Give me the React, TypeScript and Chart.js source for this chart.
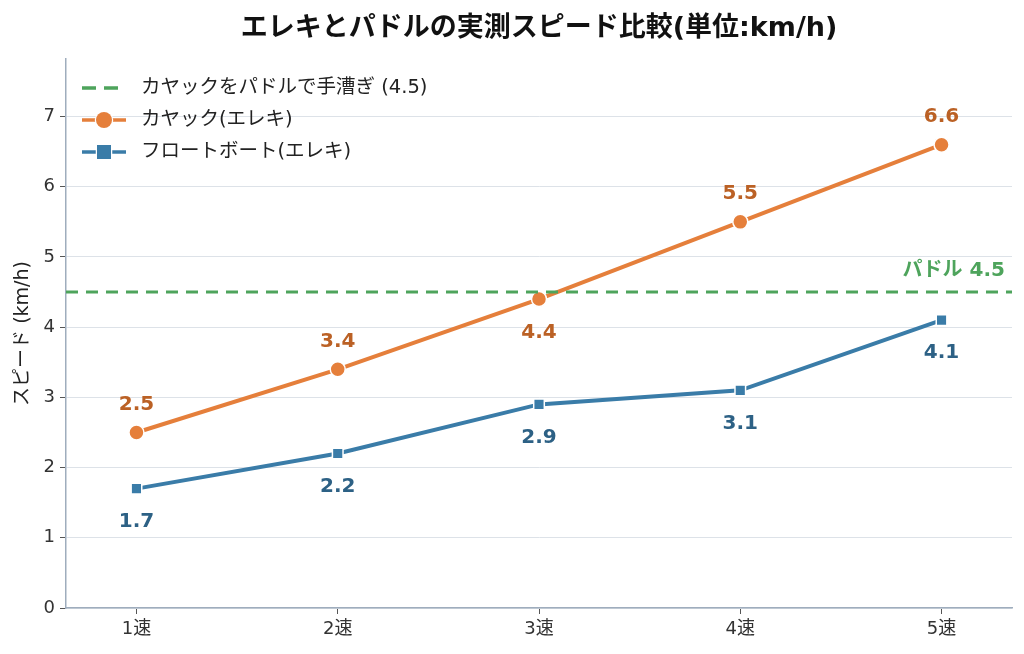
import React, { useEffect, useRef } from "react";
import { Chart, registerables } from "chart.js";

Chart.register(...registerables);

const categories = ["1速", "2速", "3速", "4速", "5速"];
const kayakSpeeds = [2.5, 3.4, 4.4, 5.5, 6.6];
const floatSpeeds = [1.7, 2.2, 2.9, 3.1, 4.1];
const paddleSpeed = 4.5;
const yTicks = [0, 1, 2, 3, 4, 5, 6, 7];
const kayakLabelBelow = [false, false, true, false, false];

const TITLE = "エレキとパドルの実測スピード比較(単位:km/h)";
const FONT = "'DejaVu Sans', 'Noto Sans CJK JP', sans-serif";
const X_MIN = -0.35;
const X_MAX = 4.35;

const GREEN = "#4ea45c";
const ORANGE = "#e57f3b";
const BLUE = "#3a7ca8";
const ORANGE_TEXT = "#bb6125";
const BLUE_TEXT = "#2d6185";

const overlayPlugin = {
  id: "overlay",
  afterDatasetsDraw(chart: any) {
    const { ctx, chartArea, scales } = chart;
    const xs = scales.x;
    const ys = scales.y;
    ctx.save();
    // title
    ctx.fillStyle = "#111";
    ctx.font = `bold 27px ${FONT}`;
    ctx.textAlign = "center";
    ctx.textBaseline = "middle";
    ctx.fillText(TITLE, (chartArea.left + chartArea.right) / 2, 29);

    // data labels
    ctx.font = `bold 20px ${FONT}`;
    kayakSpeeds.forEach((v, i) => {
      const px = xs.getPixelForValue(i);
      const py = ys.getPixelForValue(v);
      ctx.fillStyle = ORANGE_TEXT;
      ctx.fillText(v.toFixed(1), px, kayakLabelBelow[i] ? py + 34 : py - 28);
    });
    floatSpeeds.forEach((v, i) => {
      const px = xs.getPixelForValue(i);
      const py = ys.getPixelForValue(v);
      ctx.fillStyle = BLUE_TEXT;
      ctx.fillText(v.toFixed(1), px, py + 33);
    });

    // paddle label
    ctx.fillStyle = GREEN;
    ctx.textAlign = "right";
    ctx.font = `bold 20px ${FONT}`;
    ctx.fillText(`パドル ${paddleSpeed}`, chartArea.right - 7, ys.getPixelForValue(paddleSpeed) - 21);

    // legend
    const items = [
      { text: `カヤックをパドルで手漕ぎ (${paddleSpeed})`, color: GREEN, marker: "none" },
      { text: "カヤック(エレキ)", color: ORANGE, marker: "circle" },
      { text: "フロートボート(エレキ)", color: BLUE, marker: "square" },
    ];
    const lx = chartArea.left + 16;
    let ly = 88;
    ctx.textAlign = "left";
    ctx.font = `19.5px ${FONT}`;
    items.forEach((it) => {
      ctx.strokeStyle = it.color;
      ctx.lineWidth = 3.5;
      if (it.marker === "none") {
        ctx.setLineDash([14, 8]);
        ctx.beginPath();
        ctx.moveTo(lx, ly);
        ctx.lineTo(lx + 36, ly);
        ctx.stroke();
        ctx.setLineDash([]);
      } else {
        ctx.beginPath();
        ctx.moveTo(lx, ly);
        ctx.lineTo(lx + 44, ly);
        ctx.stroke();
      }
      ctx.fillStyle = it.color;
      ctx.strokeStyle = "#fff";
      ctx.lineWidth = 2.5;
      if (it.marker === "circle") {
        ctx.beginPath();
        ctx.arc(lx + 22, ly, 8, 0, Math.PI * 2);
        ctx.stroke();
        ctx.fill();
      } else if (it.marker === "square") {
        ctx.strokeRect(lx + 15, ly - 7, 14, 14);
        ctx.fillRect(lx + 15, ly - 7, 14, 14);
      }
      ctx.fillStyle = "#222";
      ctx.fillText(it.text, lx + 59, ly);
      ly += 32;
    });
    ctx.restore();
  },
};

export default function App() {
  const ref = useRef<HTMLCanvasElement | null>(null);
  useEffect(() => {
    document.body.style.margin = "0";
    const canvas = ref.current;
    if (!canvas) return;
    const chart = new Chart(canvas, {
      type: "line",
      data: {
        datasets: [
          {
            label: "paddle",
            data: [
              { x: X_MIN, y: paddleSpeed },
              { x: X_MAX, y: paddleSpeed },
            ],
            borderColor: GREEN,
            borderWidth: 3,
            borderDash: [12, 8],
            pointRadius: 0,
          },
          {
            label: "カヤック(エレキ)",
            data: kayakSpeeds.map((v, i) => ({ x: i, y: v })),
            borderColor: ORANGE,
            backgroundColor: ORANGE,
            borderWidth: 4,
            pointRadius: 7.5,
            pointBorderColor: "#fff",
            pointBorderWidth: 1.5,
            pointStyle: "circle",
          },
          {
            label: "フロートボート(エレキ)",
            data: floatSpeeds.map((v, i) => ({ x: i, y: v })),
            borderColor: BLUE,
            backgroundColor: BLUE,
            borderWidth: 4,
            pointRadius: 7.5,
            pointBorderColor: "#fff",
            pointBorderWidth: 1.5,
            pointStyle: "rect",
          },
        ],
      },
      options: {
        animation: false,
        responsive: false,
        maintainAspectRatio: false,
        layout: { padding: { top: 59, right: 12, left: 0, bottom: 0 } },
        plugins: {
          legend: { display: false },
          title: { display: false },
          tooltip: { enabled: false },
        },
        scales: {
          x: {
            type: "linear",
            min: X_MIN,
            max: X_MAX,
            afterBuildTicks: (s: any) => {
              s.ticks = categories.map((_, i) => ({ value: i }));
            },
            afterFit: (s: any) => {
              s.height = 46;
            },
            ticks: {
              callback: (v: any) => categories[v as number] ?? "",
              font: { family: FONT, size: 18 },
              color: "#333",
              padding: 5,
            },
            grid: {
              drawOnChartArea: false,
              drawTicks: true,
              tickLength: 6,
              tickColor: "#555",
            },
            border: { color: "#9fadbd", width: 1.5 },
          },
          y: {
            min: 0,
            max: 7.82,
            afterBuildTicks: (s: any) => {
              s.ticks = yTicks.map((v) => ({ value: v }));
            },
            afterFit: (s: any) => {
              s.width = 66;
            },
            ticks: {
              font: { family: FONT, size: 18 },
              color: "#333",
              padding: 5,
            },
            grid: {
              color: "#dde2e8",
              lineWidth: 1,
              drawTicks: true,
              tickLength: 6,
              tickColor: "#555",
            },
            border: { color: "#9fadbd", width: 1.5 },
            title: {
              display: true,
              text: "スピード (km/h)",
              font: { family: FONT, size: 19 },
              color: "#222",
              padding: { top: 12, bottom: 0 },
            },
          },
        },
      },
      plugins: [overlayPlugin],
    } as any);
    return () => chart.destroy();
  }, []);
  return <canvas ref={ref} width={1024} height={654} style={{ display: "block", width: 1024, height: 654 }} />;
}
